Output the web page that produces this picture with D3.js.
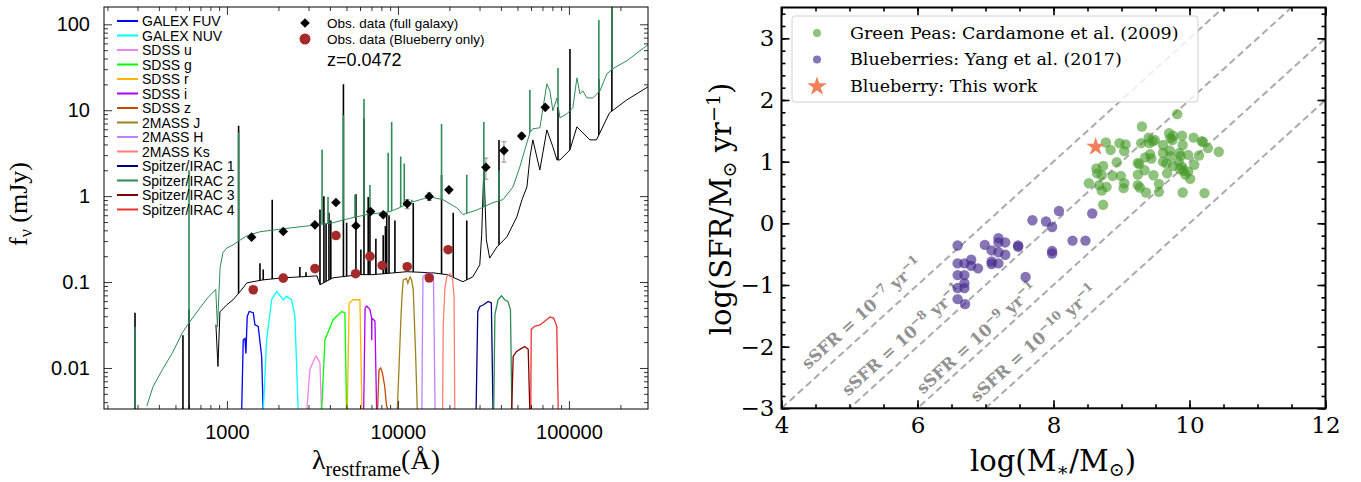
<!DOCTYPE html>
<html>
<head>
<meta charset="utf-8">
<title>SED and SFR-mass</title>
<script src="https://cdn.jsdelivr.net/npm/d3@7"></script>
<style>
  body { margin: 0; background: #fff; }
  svg { display: block; }
  .lax text { font-family: "Liberation Sans", Arial, sans-serif; font-size: 20px; fill: #000; }
  .lax line { stroke: #000; stroke-width: 0.8; }
  .rax text { font-family: "DejaVu Serif", serif; font-size: 23px; fill: #000; }
  .rax line { stroke: #000; stroke-width: 1.6; }
</style>
</head>
<body>
<script>
// ---------------- left panel: SED ----------------
// observed photometry (rest-frame wavelength in A, flux in mJy)
var obsLam  = [1394, 2134, 3270, 4340, 5680, 6923, 8203, 11330, 15240, 19870, 32700, 41690, 52900, 72700];
var obsFlux = [0.333, 0.387, 0.463, 0.843, 0.452, 0.662, 0.607, 0.814, 0.989, 1.184, 2.17, 3.39, 5.02, 10.8];
var obsErr  = [0, 0, 0, 0, 0, 0, 0, 0.1, 0.1, 0, 0.6, 0.9, 0.4, 0];
var bbLam  = [1425, 2134, 3270, 4340, 5656, 6860, 8090, 11330, 15240, 19660];
var bbFlux = [0.0814, 0.111, 0.1435, 0.348, 0.125, 0.199, 0.156, 0.151, 0.112, 0.238];
var bbErr  = [0, 0, 0, 0, 0, 0, 0, 0, 0.012, 0];

// model continua [lambda, flux]
var greenCont = [[340,0.0036],[370,0.0061],[420,0.0096],[480,0.015],[550,0.026],[610,0.035],[700,0.051],
  [775,0.066],[860,0.082],[880,0.030],[912,0.147],[947,0.22],[1000,0.25],[1084,0.27],[1200,0.31],[1309,0.345],
  [1560,0.385],[2000,0.41],[2670,0.44],[3300,0.46],[4170,0.49],[5200,0.55],[6590,0.61],[8980,0.66],[10000,0.72],
  [11750,0.84],[15390,0.98],[18320,0.91],[22130,0.73],[23990,0.61],[28980,0.69],[35930,0.84],[41120,0.91],
  [47070,1.28],[51650,2.19],[55500,3.6],[59200,5.5],[61480,6.08],[67600,6.24],[74300,20.3],[77400,16.8],
  [80600,9.84],[85100,13.9],[88600,8.16],[97300,9.08],[105500,10.7],[111300,23.8],[116000,15.5],[120700,16.8],
  [127400,13.9],[138000,13.9],[151700,16.8],[166700,26.5],[180700,30.4],[218200,37.7],[289700,57.8]];
var blackCont = [[862,0.032],[886,0.0104],[910,0.045],[1000,0.0545],[1084,0.062],[1191,0.077],[1309,0.098],
  [1624,0.106],[2125,0.112],[3362,0.118],[3497,0.093],[4170,0.112],[5997,0.122],[7150,0.122],[11290,0.132],
  [16040,0.128],[19350,0.122],[23990,0.101],[27400,0.115],[30100,0.159],[30900,0.36],[31800,2.2],[32900,0.31],
  [34400,0.19],[37950,0.257],[43400,0.336],[49600,0.574],[53100,0.906],[56800,1.28],[59200,2.87],[61500,4.52],
  [67600,2.02],[74300,5.9],[80600,3.74],[85100,2.64],[88600,2.64],[101400,3.45],[111300,6.4],[120700,5.45],
  [132500,4.52],[145000,4.52],[172600,9.31],[218200,13.2],[289700,18.7]];

// emission lines [lambda, peak flux]
var greenLines = [[290,0.030],[600,2.0],[1170,5.5],[3600,3.5],[3900,0.98],[4800,8.8],[5610,1.03],[6330,13.5],
  [6860,1.35],[8770,3.2],[9190,7.3],[10380,2.9],[10890,2.4],[12040,0.91],[17990,6.9],[25260,1.77],[31800,7.3],
  [39000,2.0],[59100,17.2],[86300,31],[149600,112],[178300,400]];
var blackLines = [[290,0.044],[553,0.024],[600,0.048],[1170,6.6],[1560,0.166],[1630,0.14],[1840,0.91],[2670,0.15],
  [2900,0.13],[3500,0.70],[3690,1.0],[3800,0.48],[3950,0.64],[4050,0.52],[4800,20],[5010,0.49],[5680,1.05],
  [6070,0.24],[6330,8],[6700,0.98],[6860,0.73],[7430,0.32],[8200,0.35],[8450,0.45],[8600,0.64],[8870,0.6],
  [9600,0.52],[12290,0.83],[17990,1.76],[21050,0.64],[25260,0.52],[39000,4.5],[86300,10.9],[101400,51.7],
  [149600,23],[178300,400]];

// filter transmission curves [lambda, flux]
var fuv = [[1219,0.003],[1245,0.0213],[1274,0.022],[1291,0.0147],[1314,0.0398],[1350,0.0455],[1425,0.044],[1458,0.0318],[1524,0.0305],[1596,0.0136],[1630,0.003]];
var nuv = [[1630,0.003],[1707,0.0213],[1826,0.0622],[1952,0.0778],[2134,0.0622],[2234,0.068],[2390,0.0622],[2497,0.0398],[2613,0.003]];
var sdssU = [[2925,0.003],[3054,0.00955],[3270,0.0131],[3334,0.0137],[3499,0.0115],[3575,0.003]];
var sdssG = [[3575,0.003],[3741,0.0213],[4179,0.0365],[4683,0.0455],[4895,0.0437],[5010,0.003]];
var sdssR = [[5050,0.003],[5184,0.057],[5476,0.0622],[5994,0.0622],[6162,0.003]];
var sdssI = [[6300,0.003],[6426,0.0499],[6572,0.0525],[6860,0.0478],[7020,0.0381],[7030,0.021],[7040,0.0381],[7338,0.0352],[7510,0.003]];
var sdssZ = [[7589,0.003],[7750,0.00955],[7930,0.010],[8117,0.0087],[8370,0.0061],[8580,0.0036],[8894,0.003]];
var tmJ = [[9900,0.003],[10170,0.0114],[10420,0.0398],[10560,0.068],[10740,0.106],[11200,0.110],[11420,0.097],[11780,0.115],[12020,0.106],[12290,0.0815],[12700,0.0137],[12990,0.003]];
var tmH = [[13800,0.003],[14000,0.115],[14770,0.127],[15750,0.127],[16130,0.115],[16500,0.003]];
var tmKs = [[18250,0.003],[18400,0.0305],[18800,0.0815],[19300,0.115],[20100,0.124],[20800,0.115],[21300,0.068],[21500,0.003]];
var irac1 = [[28630,0.003],[29300,0.0455],[30150,0.052],[31510,0.054],[33700,0.0594],[35180,0.057],[36000,0.003]];
var irac2 = [[36300,0.003],[36900,0.0417],[38500,0.0622],[40300,0.0693],[42100,0.0622],[44000,0.0594],[45500,0.0478],[46400,0.003]];
var irac3 = [[46200,0.003],[47200,0.0136],[49400,0.0156],[52800,0.0169],[55200,0.0178],[57800,0.0165],[59100,0.003]];
var irac4 = [[59800,0.003],[60200,0.0282],[63000,0.0305],[67600,0.0317],[72500,0.0352],[77400,0.0392],[81500,0.0381],[84900,0.0305],[86600,0.003]];

var filterNames = ["GALEX FUV", "GALEX NUV", "SDSS u", "SDSS g", "SDSS r", "SDSS i", "SDSS z",
  "2MASS J", "2MASS H", "2MASS Ks", "Spitzer/IRAC 1", "Spitzer/IRAC 2", "Spitzer/IRAC 3", "Spitzer/IRAC 4"];
var filterColors = ["#0000ff", "#00ffff", "#ee82ee", "#00ff00", "#ffb400", "#b000ff", "#c84a00",
  "#a0801c", "#c080ff", "#fa8072", "#000080", "#2e8b57", "#800000", "#f03030"];
var filterCurves = [fuv, nuv, sdssU, sdssG, sdssR, sdssI, sdssZ, tmJ, tmH, tmKs, irac1, irac2, irac3, irac4];

var xTicksL = [1000, 10000, 100000];
var yTicksL = [0.01, 0.1, 1, 10, 100];

// ---------------- right panel: SFR vs mass ----------------
var peasX = [9.82,9.30,8.77,8.84,8.97,9.06,9.04,9.29,9.40,9.46,9.49,9.41,9.70,9.72,9.76,9.75,9.89,10.06,10.18,10.20,
  10.27,10.43,10.14,9.61,9.90,9.61,9.71,9.72,9.85,9.87,9.98,9.42,9.35,9.44,8.93,9.24,9.26,9.61,9.66,9.76,9.84,9.89,
  10.07,9.86,9.91,9.98,10.01,9.94,8.63,8.73,8.64,8.71,8.87,8.99,9.04,9.03,9.34,9.24,9.47,9.67,8.52,8.67,8.78,8.71,
  9.24,9.27,9.36,9.55,9.55,9.90,10.22,8.73];
var peasY = [1.77,1.57,1.31,1.19,1.30,1.28,1.17,1.30,1.39,1.33,1.35,1.30,1.46,1.38,1.42,1.35,1.42,1.39,1.33,1.32,
  1.22,1.16,1.10,1.27,1.27,1.14,1.18,1.09,1.14,1.09,1.11,1.12,1.07,1.05,0.99,0.98,0.96,1.00,0.97,0.93,1.00,0.92,
  0.95,0.88,0.85,0.84,0.72,0.79,0.89,0.93,0.81,0.78,0.77,0.77,0.65,0.57,0.86,0.79,0.78,0.81,0.65,0.62,0.59,0.53,
  0.62,0.58,0.50,0.64,0.51,0.50,0.49,0.30];
var berriesX = [6.59,6.59,6.69,6.79,6.79,6.89,6.59,6.69,6.69,6.59,6.69,6.59,6.70,6.99,7.09,7.19,7.19,7.29,7.19,7.29,
  7.09,7.09,7.19,7.48,7.48,7.59,7.69,7.89,7.98,8.08,7.98,7.98,8.28,8.47,8.57];
var berriesY = [-0.36,-0.65,-0.65,-0.59,-0.69,-0.73,-0.84,-0.84,-0.97,-1.05,-1.05,-1.23,-1.31,-0.35,-0.44,-0.24,
  -0.31,-0.31,-0.47,-0.51,-0.62,-0.66,-0.65,-0.36,-0.38,-0.87,0.05,0.03,-0.06,0.20,-0.45,-0.49,-0.28,-0.28,0.16];
var thisWork = [8.62, 1.24];
var sSFRexp = [-7, -8, -9, -10];
var sLabelX = [4.39, 4.98, 6.08, 6.87];
var sLabelY = [-2.38, -2.81, -2.78, -2.91];
var legendR = ["Green Peas: Cardamone et al. (2009)", "Blueberries: Yang et al. (2017)", "Blueberry: This work"];

var peaColor = "#449926", berryColor = "#45298d", starColor = "#f2805c";

var svg = d3.select("body").append("svg").attr("width", 1361).attr("height", 482);
var defs = svg.append("defs");

// ===== left panel =====
var L = { left: 104, right: 648, top: 7, bottom: 409 };
var xL = d3.scaleLog().domain([191, 290000]).range([L.left, L.right]);
var yL = d3.scaleLog().domain([0.00333, 159]).range([L.bottom, L.top]);

defs.append("clipPath").attr("id", "frameL").append("rect")
  .attr("x", L.left).attr("y", L.top).attr("width", L.right - L.left).attr("height", L.bottom - L.top);

var gL = svg.append("g").attr("clip-path", "url(#frameL)");
var lineL = d3.line().x(function(d) { return xL(d[0]); }).y(function(d) { return yL(d[1]); });

// spikes go from the frame bottom up to the peak, clipped to the area above the continuum
function drawSpectrum(cont, lines, color, id) {
  defs.append("clipPath").attr("id", id).append("path")
    .attr("d", d3.area().x(function(d) { return xL(d[0]); }).y0(0).y1(function(d) { return yL(d[1]); })(cont));
  var lo = cont[0][0], hi = cont[cont.length - 1][0];
  var g = gL.append("g");
  g.selectAll("line").data(lines).enter().append("line")
    .attr("x1", function(d) { return xL(d[0]); })
    .attr("x2", function(d) { return xL(d[0]); })
    .attr("y1", L.bottom)
    .attr("y2", function(d) { return yL(d[1]); })
    .attr("clip-path", function(d) { return (d[0] > lo && d[0] < hi) ? "url(#" + id + ")" : null; })
    .style("stroke", color).style("stroke-width", 1.6);
  g.append("path").datum(cont).attr("d", lineL)
    .style("fill", "none").style("stroke", color).style("stroke-width", 1);
}
drawSpectrum(blackCont, blackLines, "#000", "aboveBlack");
drawSpectrum(greenCont, greenLines, "#2e8b57", "aboveGreen");

gL.selectAll(".filter").data(filterCurves).enter().append("path")
  .attr("class", "filter")
  .attr("d", lineL)
  .style("fill", "none")
  .style("stroke", function(d, i) { return filterColors[i]; })
  .style("stroke-width", 1.3);

// error bars
function errBars(lam, flux, err, color) {
  lam.forEach(function(l, i) {
    if (!err[i]) return;
    var x = xL(l), y1 = yL(flux[i] - err[i]), y2 = yL(flux[i] + err[i]);
    gL.append("line").attr("x1", x).attr("x2", x).attr("y1", y1).attr("y2", y2).style("stroke", color).style("stroke-width", 0.8);
    [y1, y2].forEach(function(y) {
      gL.append("line").attr("x1", x - 2.5).attr("x2", x + 2.5).attr("y1", y).attr("y2", y).style("stroke", color).style("stroke-width", 0.8);
    });
  });
}
errBars(obsLam, obsFlux, obsErr, "#777");
errBars(bbLam, bbFlux, bbErr, "#e08080");

var diamond = d3.symbol().type(d3.symbolSquare).size(46);
gL.selectAll(".obs").data(obsLam).enter().append("path")
  .attr("class", "obs")
  .attr("d", diamond)
  .attr("transform", function(d, i) { return "translate(" + xL(d) + "," + yL(obsFlux[i]) + ") rotate(45)"; })
  .style("fill", "#000");
gL.selectAll(".bb").data(bbLam).enter().append("circle")
  .attr("class", "bb")
  .attr("cx", function(d) { return xL(d); })
  .attr("cy", function(d, i) { return yL(bbFlux[i]); })
  .attr("r", 4.8)
  .style("fill", "#a52a2a");

// axes left
function decadeMinors(lo, hi) {
  var out = [];
  for (var dec = 1e-4; dec < 1e7; dec *= 10) {
    for (var k = 2; k <= 9; k++) {
      var v = k * dec;
      if (v > lo && v < hi) out.push(v);
    }
  }
  return out;
}
var xMinorL = decadeMinors(191, 290000), yMinorL = decadeMinors(0.00333, 159);
var yFmt = function(d) { return d >= 1 ? d3.format("d")(d) : String(+d.toPrecision(1)); };

svg.append("g").attr("class", "lax").attr("transform", "translate(0," + L.bottom + ")")
  .call(d3.axisBottom(xL).tickValues(xTicksL).tickSize(-8).tickPadding(16).tickFormat(d3.format("d")))
  .call(function(g) { g.select(".domain").remove(); });
svg.append("g").attr("class", "lax").attr("transform", "translate(0," + L.bottom + ")")
  .call(d3.axisBottom(xL).tickValues(xMinorL).tickSize(-4).tickFormat(""))
  .call(function(g) { g.select(".domain").remove(); });
svg.append("g").attr("class", "lax").attr("transform", "translate(0," + L.top + ")")
  .call(d3.axisTop(xL).tickValues(xTicksL).tickSize(-8).tickFormat(""))
  .call(function(g) { g.select(".domain").remove(); });
svg.append("g").attr("class", "lax").attr("transform", "translate(0," + L.top + ")")
  .call(d3.axisTop(xL).tickValues(xMinorL).tickSize(-4).tickFormat(""))
  .call(function(g) { g.select(".domain").remove(); });
svg.append("g").attr("class", "lax").attr("transform", "translate(" + L.left + ",0)")
  .call(d3.axisLeft(yL).tickValues(yTicksL).tickSize(-8).tickPadding(14).tickFormat(yFmt))
  .call(function(g) { g.select(".domain").remove(); });
svg.append("g").attr("class", "lax").attr("transform", "translate(" + L.left + ",0)")
  .call(d3.axisLeft(yL).tickValues(yMinorL).tickSize(-4).tickFormat(""))
  .call(function(g) { g.select(".domain").remove(); });
svg.append("g").attr("class", "lax").attr("transform", "translate(" + L.right + ",0)")
  .call(d3.axisRight(yL).tickValues(yTicksL).tickSize(-8).tickFormat(""))
  .call(function(g) { g.select(".domain").remove(); });
svg.append("g").attr("class", "lax").attr("transform", "translate(" + L.right + ",0)")
  .call(d3.axisRight(yL).tickValues(yMinorL).tickSize(-4).tickFormat(""))
  .call(function(g) { g.select(".domain").remove(); });

svg.append("rect").attr("x", L.left).attr("y", L.top).attr("width", L.right - L.left).attr("height", L.bottom - L.top)
  .style("fill", "none").style("stroke", "#000").style("stroke-width", 1);

// left legend
var legL = svg.append("g").style("font-family", "'Liberation Sans', Arial, sans-serif").style("font-size", "14px");
filterNames.forEach(function(name, i) {
  var y = 21 + 14.5 * i;
  legL.append("line").attr("x1", 117).attr("x2", 138).attr("y1", y).attr("y2", y)
    .style("stroke", filterColors[i]).style("stroke-width", 2);
  legL.append("text").attr("x", 142).attr("y", y + 5).text(name);
});
legL.append("path").attr("d", diamond).attr("transform", "translate(305,23) rotate(45)").style("fill", "#000");
legL.append("text").attr("x", 327).attr("y", 28).style("font-size", "13.5px").text("Obs. data (full galaxy)");
legL.append("circle").attr("cx", 305).attr("cy", 39).attr("r", 5.5).style("fill", "#a52a2a");
legL.append("text").attr("x", 327).attr("y", 44).style("font-size", "13.5px").text("Obs. data (Blueberry only)");
legL.append("text").attr("x", 327).attr("y", 66).style("font-size", "18px").text("z=0.0472");

// left axis labels
var xlabL = svg.append("text").attr("x", 376).attr("y", 469).attr("text-anchor", "middle")
  .style("font-family", "'Liberation Serif', 'Times New Roman', serif").style("font-size", "28px");
xlabL.append("tspan").text("λ");
xlabL.append("tspan").attr("dy", 7).style("font-size", "20px").text("restframe");
xlabL.append("tspan").attr("dy", -7).text("(Å)");

var ylabL = svg.append("text").attr("transform", "translate(27,204) rotate(-90)").attr("text-anchor", "middle")
  .style("font-family", "'Liberation Serif', 'Times New Roman', serif").style("font-size", "26px");
ylabL.append("tspan").text("f");
ylabL.append("tspan").attr("dy", 5).style("font-size", "18px").text("ν");
ylabL.append("tspan").attr("dy", -5).text(" (mJy)");

// ===== right panel =====
var R = { left: 781.5, right: 1325.5, top: 7.5, bottom: 408.3 };
var xR = d3.scaleLinear().domain([4, 12]).range([R.left, R.right]);
var yR = d3.scaleLinear().domain([-3, 3.5]).range([R.bottom, R.top]);

defs.append("clipPath").attr("id", "frameR").append("rect")
  .attr("x", R.left).attr("y", R.top).attr("width", R.right - R.left).attr("height", R.bottom - R.top);
var gR = svg.append("g").attr("clip-path", "url(#frameR)");

gR.selectAll(".ssfr").data(sSFRexp).enter().append("line")
  .attr("class", "ssfr")
  .attr("x1", xR(4)).attr("x2", xR(12))
  .attr("y1", function(d) { return yR(4 + d); })
  .attr("y2", function(d) { return yR(12 + d); })
  .style("stroke", "#aaaaaa").style("stroke-width", 2).style("stroke-dasharray", "7,4");

var ang = Math.atan2(yR(0) - yR(1), xR(1) - xR(0)) * 180 / Math.PI;
sSFRexp.forEach(function(e, i) {
  var t = gR.append("text")
    .attr("transform", "translate(" + xR(sLabelX[i]) + "," + yR(sLabelY[i]) + ") rotate(" + (-ang) + ")")
    .style("font-family", "'DejaVu Serif', serif").style("font-weight", "bold")
    .style("font-size", "16.5px").style("fill", "#919191");
  t.append("tspan").text("sSFR = 10");
  t.append("tspan").attr("dy", -7).style("font-size", "12px").text(d3.format("d")(e));
  t.append("tspan").attr("dy", 7).text(" yr");
  t.append("tspan").attr("dy", -7).style("font-size", "12px").text("−1");
});

gR.selectAll(".pea").data(peasX).enter().append("circle")
  .attr("class", "pea")
  .attr("cx", function(d) { return xR(d); })
  .attr("cy", function(d, i) { return yR(peasY[i]); })
  .attr("r", 5.2)
  .style("fill", peaColor).style("fill-opacity", 0.6);
gR.selectAll(".berry").data(berriesX).enter().append("circle")
  .attr("class", "berry")
  .attr("cx", function(d) { return xR(d); })
  .attr("cy", function(d, i) { return yR(berriesY[i]); })
  .attr("r", 5.2)
  .style("fill", berryColor).style("fill-opacity", 0.65);
var star = d3.symbol().type(d3.symbolStar).size(110);
gR.append("path").attr("d", star)
  .attr("transform", "translate(" + xR(thisWork[0]) + "," + yR(thisWork[1]) + ")")
  .style("fill", starColor);

// axes right
var xMajorR = d3.range(4, 12.01, 2), xMinorR = d3.range(0, 17).map(function(i) { return 4 + i * 0.5; });
var yMajorR = d3.range(-3, 3.01, 1), yMinorR = d3.range(0, 33).map(function(i) { return -3 + i * 0.2; });

svg.append("g").attr("class", "rax").attr("transform", "translate(0," + R.bottom + ")")
  .call(d3.axisBottom(xR).tickValues(xMajorR).tickSize(-8).tickPadding(8).tickFormat(d3.format("d")))
  .call(function(g) { g.select(".domain").remove(); });
svg.append("g").attr("class", "rax").attr("transform", "translate(0," + R.bottom + ")")
  .call(d3.axisBottom(xR).tickValues(xMinorR).tickSize(-4).tickFormat(""))
  .call(function(g) { g.select(".domain").remove(); });
svg.append("g").attr("class", "rax").attr("transform", "translate(0," + R.top + ")")
  .call(d3.axisTop(xR).tickValues(xMajorR).tickSize(-8).tickFormat(""))
  .call(function(g) { g.select(".domain").remove(); });
svg.append("g").attr("class", "rax").attr("transform", "translate(0," + R.top + ")")
  .call(d3.axisTop(xR).tickValues(xMinorR).tickSize(-4).tickFormat(""))
  .call(function(g) { g.select(".domain").remove(); });
svg.append("g").attr("class", "rax").attr("transform", "translate(" + R.left + ",0)")
  .call(d3.axisLeft(yR).tickValues(yMajorR).tickSize(-8).tickPadding(7).tickFormat(d3.format("d")))
  .call(function(g) { g.select(".domain").remove(); });
svg.append("g").attr("class", "rax").attr("transform", "translate(" + R.left + ",0)")
  .call(d3.axisLeft(yR).tickValues(yMinorR).tickSize(-4).tickFormat(""))
  .call(function(g) { g.select(".domain").remove(); });
svg.append("g").attr("class", "rax").attr("transform", "translate(" + R.right + ",0)")
  .call(d3.axisRight(yR).tickValues(yMajorR).tickSize(-8).tickFormat(""))
  .call(function(g) { g.select(".domain").remove(); });
svg.append("g").attr("class", "rax").attr("transform", "translate(" + R.right + ",0)")
  .call(d3.axisRight(yR).tickValues(yMinorR).tickSize(-4).tickFormat(""))
  .call(function(g) { g.select(".domain").remove(); });

svg.append("rect").attr("x", R.left).attr("y", R.top).attr("width", R.right - R.left).attr("height", R.bottom - R.top)
  .style("fill", "none").style("stroke", "#000").style("stroke-width", 2);

// right legend
var legR = svg.append("g").style("font-family", "'DejaVu Serif', serif").style("font-size", "17.5px");
legR.append("rect").attr("x", 792).attr("y", 16).attr("width", 406).attr("height", 86).attr("rx", 3)
  .style("fill", "#fff").style("fill-opacity", 0.8).style("stroke", "#d0d0d0");
legR.append("circle").attr("cx", 817).attr("cy", 33).attr("r", 4).style("fill", peaColor).style("fill-opacity", 0.6);
legR.append("circle").attr("cx", 817).attr("cy", 59.5).attr("r", 4).style("fill", berryColor).style("fill-opacity", 0.65);
legR.append("path").attr("d", d3.symbol().type(d3.symbolStar).size(120)).attr("transform", "translate(817,86.5)").style("fill", starColor);
legendR.forEach(function(s, i) {
  legR.append("text").attr("x", 850).attr("y", [39, 65, 91.5][i]).text(s);
});

// right axis labels
var xlabR = svg.append("text").attr("x", 1053).attr("y", 471).attr("text-anchor", "middle")
  .style("font-family", "'DejaVu Serif', serif").style("font-size", "29px");
xlabR.append("tspan").text("log(M");
xlabR.append("tspan").attr("dy", 5).style("font-size", "19px").text("∗");
xlabR.append("tspan").attr("dy", -5).text("/M");
xlabR.append("tspan").attr("dy", 5).style("font-size", "19px").text("⊙");
xlabR.append("tspan").attr("dy", -5).text(")");

var ylabR = svg.append("text").attr("transform", "translate(731,209) rotate(-90)").attr("text-anchor", "middle")
  .style("font-family", "'DejaVu Serif', serif").style("font-size", "29px");
ylabR.append("tspan").text("log(SFR/M");
ylabR.append("tspan").attr("dy", 5).style("font-size", "19px").text("⊙");
ylabR.append("tspan").attr("dy", -5).text(" yr");
ylabR.append("tspan").attr("dy", -11).style("font-size", "19px").text("−1");
ylabR.append("tspan").attr("dy", 11).text(")");
</script>
</body>
</html>
